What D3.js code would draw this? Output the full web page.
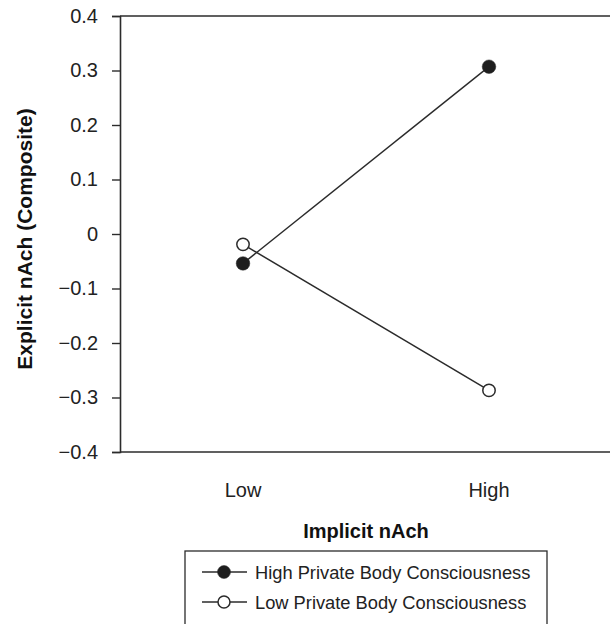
<!DOCTYPE html>
<html>
<head>
<meta charset="utf-8">
<script src="https://cdn.jsdelivr.net/npm/d3@7"></script>
<style>
  body { margin: 0; background: #fff; }
  svg { display: block; font-family: "Liberation Sans", Arial, sans-serif; }
</style>
</head>
<body>
<svg id="chart" width="610" height="624"></svg>
<script>
const width = 610;
const height = 624;

// data
const categories = ["Low", "High"];
const highPBC = [-0.054, 0.307];
const lowPBC = [-0.019, -0.287];
const seriesNames = ["High Private Body Consciousness", "Low Private Body Consciousness"];
const yTicks = [-0.4, -0.3, -0.2, -0.1, 0, 0.1, 0.2, 0.3, 0.4];

const series = [
  {name: seriesNames[0], values: highPBC, filled: true},
  {name: seriesNames[1], values: lowPBC, filled: false}
];

const plotLeft = 120, plotRight = 612, plotTop = 16, plotBottom = 452;
const ink = "#2b2b2b";

const svg = d3.select("#chart");

const x = d3.scalePoint().domain(categories).range([plotLeft, plotRight]).padding(0.5);
const y = d3.scaleLinear().domain([-0.4, 0.4]).range([plotBottom, plotTop]);

// y axis
const yAxis = svg.append("g")
  .attr("transform", "translate(" + plotLeft + ",0)")
  .call(d3.axisLeft(y).tickValues(yTicks).tickSize(8).tickPadding(14)
    .tickFormat(d => d === 0 ? "0" : d3.format(".1f")(d)));
yAxis.select(".domain").attr("stroke", ink).attr("stroke-width", 1.6);
yAxis.selectAll(".tick line").attr("stroke", ink).attr("stroke-width", 1.4);
yAxis.selectAll(".tick text").attr("font-size", 20).attr("fill", "#222")
  .attr("font-family", "Liberation Sans, Arial, sans-serif");

// top and bottom frame lines
svg.append("g").selectAll("line")
  .data([0.4, -0.4])
  .join("line")
  .attr("x1", plotLeft).attr("x2", width)
  .attr("y1", d => y(d)).attr("y2", d => y(d))
  .attr("stroke", ink).attr("stroke-width", 1.6);

// x category labels
svg.append("g").selectAll("text")
  .data(categories)
  .join("text")
  .attr("x", d => x(d))
  .attr("y", 497)
  .attr("text-anchor", "middle")
  .attr("font-size", 20)
  .attr("fill", "#222")
  .text(d => d);

// axis titles
svg.append("text")
  .attr("transform", "translate(32,239) rotate(-90)")
  .attr("text-anchor", "middle")
  .attr("font-size", 21)
  .attr("font-weight", "bold")
  .attr("fill", "#111")
  .text("Explicit nAch (Composite)");

svg.append("text")
  .attr("x", 366)
  .attr("y", 538)
  .attr("text-anchor", "middle")
  .attr("font-size", 20)
  .attr("font-weight", "bold")
  .attr("fill", "#111")
  .text("Implicit nAch");

// lines
const line = d3.line().x((d, i) => x(categories[i])).y(d => y(d));
svg.append("g").selectAll("path")
  .data(series)
  .join("path")
  .attr("d", d => line(d.values))
  .attr("fill", "none")
  .attr("stroke", ink)
  .attr("stroke-width", 1.5);

// markers
series.forEach(s => {
  svg.append("g").selectAll("circle")
    .data(s.values)
    .join("circle")
    .attr("cx", (d, i) => x(categories[i]))
    .attr("cy", d => y(d))
    .attr("r", s.filled ? 6.8 : 6.2)
    .attr("fill", s.filled ? "#1e1e1e" : "#fff")
    .attr("stroke", ink)
    .attr("stroke-width", s.filled ? 0.5 : 1.5);
});

// legend
const lg = svg.append("g").attr("transform", "translate(185,551)");
lg.append("rect")
  .attr("x", 0).attr("y", 0)
  .attr("width", 362).attr("height", 100)
  .attr("fill", "none")
  .attr("stroke", ink)
  .attr("stroke-width", 1.3);

const item = lg.selectAll("g.item")
  .data(series)
  .join("g")
  .attr("class", "item")
  .attr("transform", (d, i) => "translate(0," + (21 + i * 30) + ")");
item.append("line")
  .attr("x1", 17).attr("x2", 62)
  .attr("stroke", ink).attr("stroke-width", 1.5);
item.append("circle")
  .attr("cx", 39).attr("r", d => d.filled ? 6.5 : 6)
  .attr("fill", d => d.filled ? "#1e1e1e" : "#fff")
  .attr("stroke", ink)
  .attr("stroke-width", d => d.filled ? 0.5 : 1.5);
item.append("text")
  .attr("x", 70).attr("y", 6.5)
  .attr("font-size", 18.3)
  .attr("fill", "#222")
  .text(d => d.name);
</script>
</body>
</html>
